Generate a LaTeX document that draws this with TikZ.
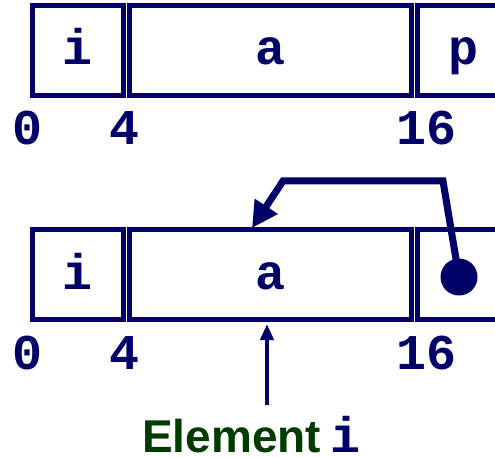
\documentclass[tikz,border=0pt]{standalone}
\usepackage{fontspec}
\setmonofont{Liberation Mono}
\newfontfamily\elsans{Liberation Sans}
\usetikzlibrary{arrows.meta}
\definecolor{navy}{RGB}{0,0,102}
\definecolor{dgreen}{RGB}{0,60,0}
\begin{document}
\begin{tikzpicture}[x=1pt,y=-1pt,
  cell/.style={draw=navy, line width=5pt, rectangle, inner sep=0pt, minimum height=90pt,
     text height=29pt, text depth=0pt, text=navy, font=\fontsize{50}{50}\selectfont\ttfamily\bfseries},
  num/.style={anchor=base, inner sep=0pt, text=navy, font=\fontsize{50}{50}\selectfont\ttfamily\bfseries},
  ptr/.style={draw=navy, line width=7pt, line join=miter, -{Triangle[length=26pt,width=26pt]}},
  up/.style={draw=navy, line width=4pt, -{Triangle[length=16pt,width=13pt]}}]
\useasboundingbox (0,0) rectangle (495,457);
\clip (0,0) rectangle (495,457);
% top row
\node[cell, minimum width=91pt] (i1) at (78,50.5) {i};
\node[cell, minimum width=282pt] (a1) at (270.5,50.5) {a};
\node[cell, minimum width=91pt] (p1) at (463,50.5) {p};
\node[num] (n0a) at (28,145) {0};
\node[num] (n4a) at (125,145) {4};
\node[num] (n16a) at (426,145) {16};
% bottom row
\node[cell, minimum width=91pt] (i2) at (78,274.5) {i};
\node[cell, minimum width=282pt] (a2) at (270.5,274.5) {a};
\node[cell, minimum width=91pt] (p2) at (463,274.5) {};
\node[num] (n0b) at (28,369) {0};
\node[num] (n4b) at (125,369) {4};
\node[num] (n16b) at (426,369) {16};
% pointer
\coordinate (c1) at (443,181);
\coordinate (c2) at (283,181);
\coordinate (tip) at (252,228);
\draw[ptr] (459,277) -- (c1) -- (c2) -- (tip);
\node[circle, fill=navy, inner sep=0pt, minimum size=37pt] (dot) at (459,277) {};
% element label
\node[anchor=base west, inner sep=0pt] (elem) at (142,452)
  {{\fontsize{46}{46}\selectfont\elsans\bfseries\color{dgreen}Element}\hspace{9pt}{\fontsize{50}{50}\selectfont\ttfamily\bfseries\color{navy}i}};
\coordinate (etail) at (267,405);
\coordinate (etip) at (267,324);
\draw[up] (etail) -- (etip);
\end{tikzpicture}
\end{document}
